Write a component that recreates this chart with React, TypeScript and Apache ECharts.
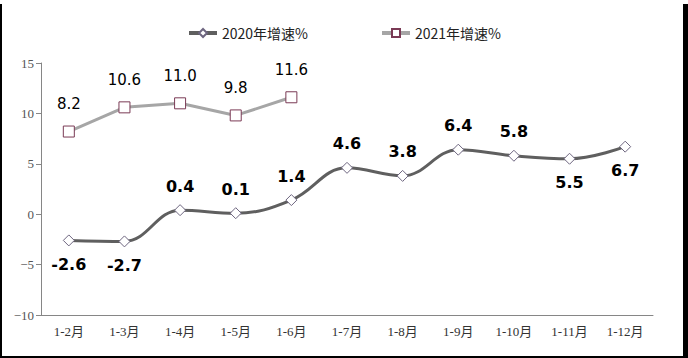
import React, { useEffect, useRef } from "react";
import * as echarts from "echarts";

const categories = ["1-2月", "1-3月", "1-4月", "1-5月", "1-6月", "1-7月", "1-8月", "1-9月", "1-10月", "1-11月", "1-12月"];
const growth2020 = [-2.6, -2.7, 0.4, 0.1, 1.4, 4.6, 3.8, 6.4, 5.8, 5.5, 6.7];
const growth2021 = [8.2, 10.6, 11.0, 9.8, 11.6];
const seriesNames = ["2020年增速%", "2021年增速%"];
const below2020 = [0, 1, 9, 10];

export default function App() {
  const ref = useRef<HTMLDivElement>(null);
  useEffect(() => {
    const chart = echarts.init(ref.current!, null, { renderer: "svg" });
    chart.setOption({
      animation: false,
      backgroundColor: "#ffffff",
      legend: {
        top: 21,
        left: "center",
        itemGap: 72,
        itemWidth: 28,
        itemHeight: 10,
        lineStyle: { width: 4 },
        textStyle: { fontSize: 14, color: "#222", fontFamily: "'Noto Sans CJK SC', 'Noto Sans', sans-serif" },
        data: seriesNames,
      },
      grid: { left: 41, right: 35, top: 63, bottom: 43 },
      xAxis: {
        type: "category",
        data: categories,
        axisLine: { onZero: false, lineStyle: { color: "#868686", width: 1 } },
        axisTick: { show: false },
        axisLabel: { color: "#333", fontSize: 13, margin: 10, fontFamily: "'Liberation Serif', 'Noto Sans CJK SC', serif" },
      },
      yAxis: {
        type: "value",
        min: -10,
        max: 15,
        interval: 5,
        splitLine: { show: false },
        axisLine: { show: true, lineStyle: { color: "#868686", width: 1 } },
        axisTick: { show: true, length: 5, lineStyle: { color: "#868686" } },
        axisLabel: {
          color: "#555",
          fontSize: 13,
          margin: 7,
          fontFamily: "'Liberation Serif', serif",
          formatter: (v: number) => String(v).replace("-", "−"),
        },
      },
      series: [
        {
          name: seriesNames[0],
          type: "line",
          smooth: 0.4,
          symbol: "diamond",
          symbolSize: 11,
          lineStyle: { color: "#5f5f5f", width: 3 },
          itemStyle: { color: "#ffffff", borderColor: "#6e6680", borderWidth: 1 },
          z: 3,
          data: growth2020.map((v, i) => ({
            value: v,
            label: { position: below2020.includes(i) ? "bottom" : "top", distance: 10 },
          })),
          label: {
            show: true,
            fontSize: 16,
            fontWeight: "bold",
            color: "#000",
            fontFamily: "'DejaVu Sans', sans-serif",
            formatter: (p: any) => Number(p.value).toFixed(1),
          },
        },
        {
          name: seriesNames[1],
          type: "line",
          symbol: "rect",
          symbolSize: 11,
          lineStyle: { color: "#a6a6a6", width: 3 },
          itemStyle: { color: "#ffffff", borderColor: "#7a3a55", borderWidth: 1 },
          z: 3,
          data: growth2021,
          label: {
            show: true,
            position: "top",
            distance: 14,
            fontSize: 15,
            color: "#000",
            fontFamily: "'DejaVu Sans', sans-serif",
            formatter: (p: any) => Number(p.value).toFixed(1),
          },
        },
      ],
      graphic: [
        { type: "rect", left: 0, top: 4, shape: { width: 2, height: 354 }, style: { fill: "#000" }, silent: true },
        { type: "rect", left: 683, top: 4, shape: { width: 5, height: 354 }, style: { fill: "#000" }, silent: true },
        { type: "rect", left: 0, top: 356, shape: { width: 688, height: 2 }, style: { fill: "#000" }, silent: true },
      ],
    });
    return () => chart.dispose();
  }, []);
  return <div ref={ref} style={{ position: "absolute", left: 0, top: 0, width: 688, height: 358 }} />;
}
